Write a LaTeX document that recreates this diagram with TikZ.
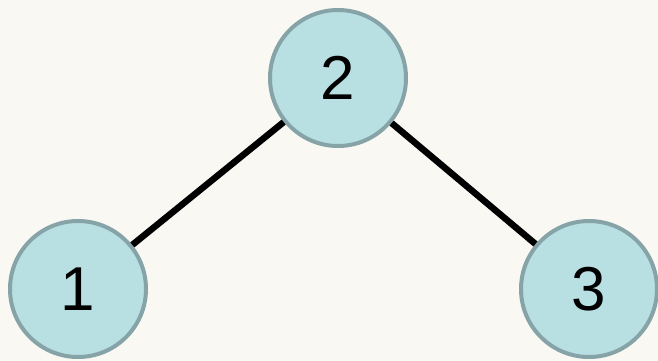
\documentclass[tikz,border=0pt]{standalone}
\usepackage{fontspec}
\setmainfont{Liberation Sans}
\definecolor{bgc}{HTML}{FAF8F3}
\definecolor{nodefill}{HTML}{B8DFE2}
\definecolor{nodeedge}{HTML}{86A4A8}
\begin{document}
\begin{tikzpicture}[x=1pt,y=-1pt,
  vertex/.style={circle,fill=nodefill,draw=nodeedge,line width=4pt,minimum size=136pt,inner sep=0pt,font=\fontsize{62}{62}\selectfont},
  edge/.style={line width=6.5pt,black}]
\fill[bgc] (0,0) rectangle (658,361);
\useasboundingbox (0,0) rectangle (658,361);
\node[vertex] (n2) at (338,78) {2};
\node[vertex] (n1) at (78,289) {1};
\node[vertex] (n3) at (589,289) {3};
\draw[edge] (n1) -- (n2);
\draw[edge] (n2) -- (n3);
\end{tikzpicture}
\end{document}
